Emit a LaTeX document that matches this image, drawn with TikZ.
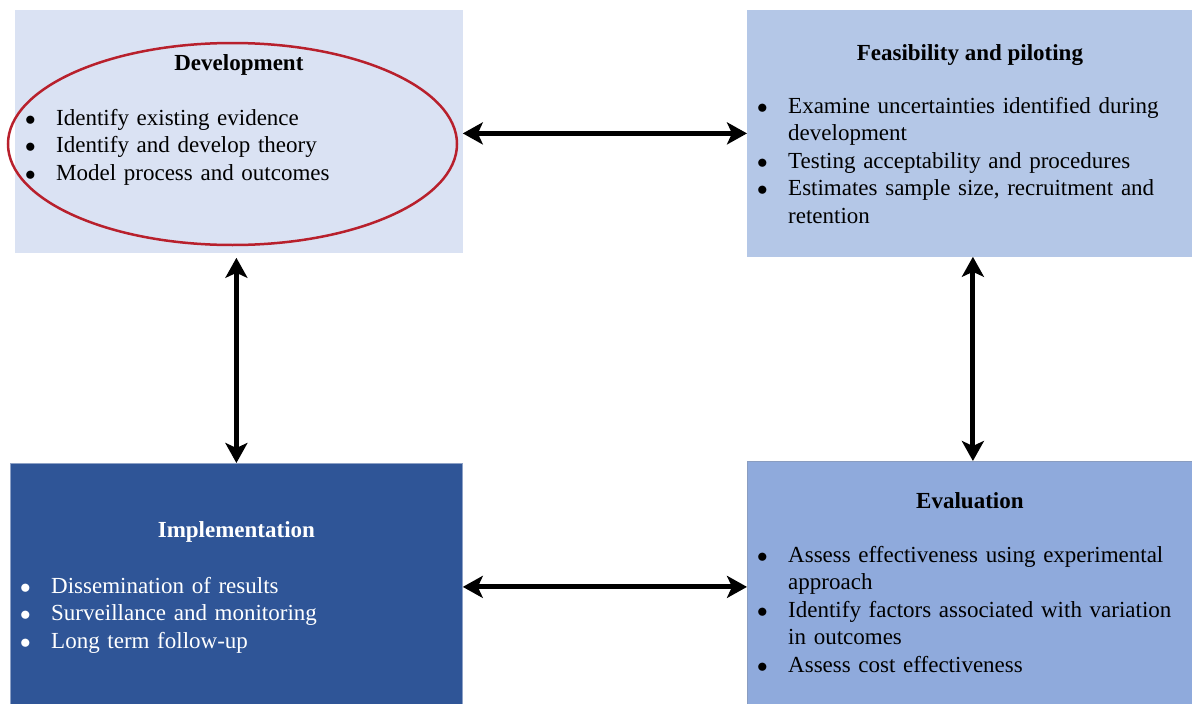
\documentclass[tikz,border=0pt]{standalone}
\usepackage{fontspec}
\setmainfont{Liberation Serif}
\usepackage{xcolor}
\usepackage{tikz}
\usetikzlibrary{arrows.meta,positioning,calc}
\definecolor{devfill}{HTML}{DAE2F3}
\definecolor{feasfill}{HTML}{B4C7E7}
\definecolor{evalfill}{HTML}{8FAADC}
\definecolor{implfill}{HTML}{2F5597}
\definecolor{ringred}{HTML}{B8202C}
\newcommand{\litem}[1]{\hangindent=31pt\hangafter=1\noindent\makebox[31pt][l]{\scalebox{0.85}{$\bullet$}}#1\par}
\tikzset{
  stage/.style ={rectangle,line width=0.8pt,anchor=north west,inner sep=0pt},
  head/.style  ={anchor=base,inner sep=0pt,font=\fontsize{23}{27.5}\selectfont\bfseries},
  items/.style ={anchor=base west,inner sep=0pt,text width=420pt,align=left,font=\fontsize{23}{27.5}\selectfont},
  link/.style  ={line width=5pt,{Stealth[length=20pt,width=22pt,inset=5pt]}-{Stealth[length=20pt,width=22pt,inset=5pt]}},
  ring/.style  ={draw=ringred,line width=2.5pt},
}

\begin{document}
\begin{tikzpicture}[x=1pt,y=-1pt]
  \useasboundingbox (0,0) rectangle (1192,704);
  % the four stages
  \node[stage,fill=devfill,draw=devfill,minimum width=447pt,minimum height=242pt] (dev) at (15,10){};
  \node[stage,fill=feasfill,draw=feasfill,minimum width=445pt,minimum height=246pt] (feas) at (747,10){};
  \node[stage,fill=implfill,draw=implfill!55!white,minimum width=452pt,minimum height=241pt] (impl) at (10,463){};
  \node[stage,fill=evalfill,draw=evalfill!70!gray,minimum width=445pt,minimum height=243pt] (eval) at (747,461){};

  \node[head] (devhead) at ($(dev.north)+(0,60)$){Development};
  \node[items] (devlist) at ($(devhead.base -| dev.west)+(10,55)$){%
    \litem{Identify existing evidence}
    \litem{Identify and develop theory}
    \litem{Model process and outcomes}};

  \node[head] (feashead) at ($(feas.north)+(0,50)$){Feasibility and piloting};
  \node[items] (feaslist) at ($(feashead.base -| feas.west)+(10,53)$){%
    \litem{Examine uncertainties identified during\newline development}
    \litem{Testing acceptability and procedures}
    \litem{Estimates sample size, recruitment and\newline retention}};

  \node[head,text=white] (implhead) at ($(impl.north)+(0,74)$){Implementation};
  \node[items,text=white] (impllist) at ($(implhead.base -| impl.west)+(10,56)$){%
    \litem{Dissemination of results}
    \litem{Surveillance and monitoring}
    \litem{Long term follow-up}};

  \node[head] (evalhead) at ($(eval.north)+(0,47)$){Evaluation};
  \node[items] (evallist) at ($(evalhead.base -| eval.west)+(10,54)$){%
    \litem{Assess effectiveness using experimental\newline approach}
    \litem{Identify factors associated with variation\newline in outcomes}
    \litem{Assess cost effectiveness}};

  % red ring round development
  \draw[ring] (232.5,144) ellipse [x radius=224.5, y radius=101];

  % links
  \draw[link] (feas.west -| dev.east) -- (feas.west);
  \draw[link] ([yshift=-5pt]impl.north |- dev.south) -- (impl.north);
  \draw[link] ([xshift=3pt]feas.south) -- ([xshift=3pt]eval.north);
  \draw[link] ([yshift=-4pt]eval.west -| impl.east) -- ([yshift=-4pt]eval.west);
\end{tikzpicture}
\end{document}
